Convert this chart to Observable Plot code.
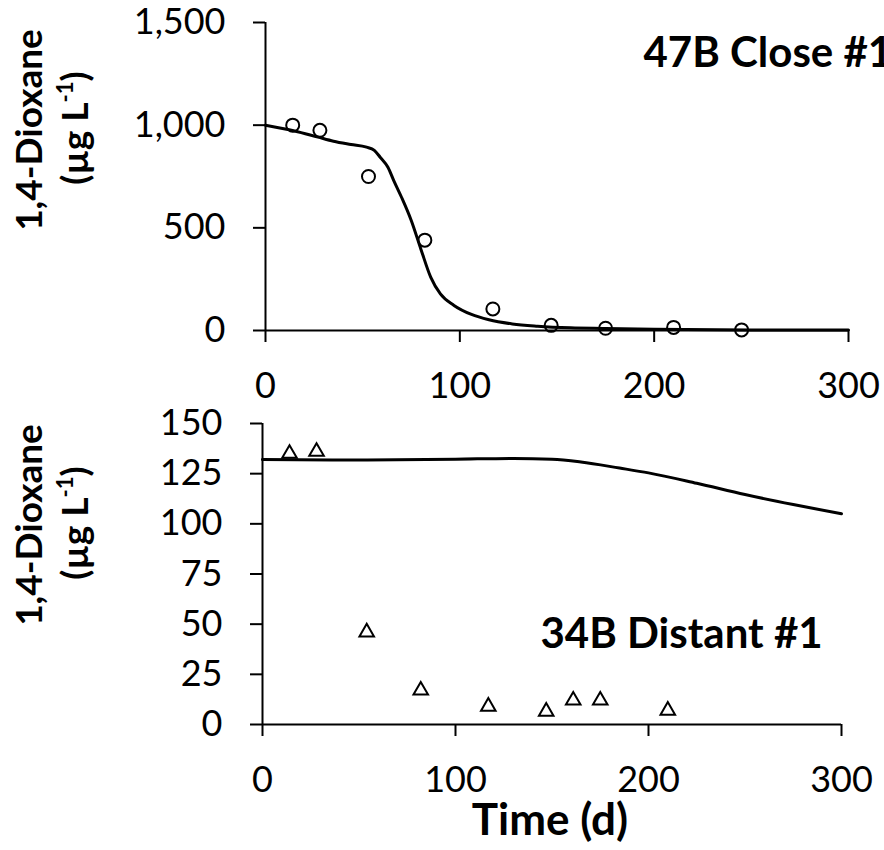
<!DOCTYPE html>
<html>
<head>
<meta charset="utf-8">
<script src="https://cdn.jsdelivr.net/npm/d3@7"></script>
<script src="https://cdn.jsdelivr.net/npm/@observablehq/plot@0.6"></script>
<style>
  html, body { margin: 0; padding: 0; background: white; }
  #wrap { position: relative; width: 884px; height: 850px; overflow: hidden; background: white; }
  #topPanel, #bottomPanel { position: absolute; left: 0; }
  #topPanel { top: 0; }
  #bottomPanel { top: 395px; }
  svg text { font-family: Lato, "DejaVu Sans", sans-serif; }
</style>
</head>
<body>
<div id="wrap"><div id="topPanel"></div><div id="bottomPanel"></div></div>
<script>
// ---- data ----
const xTicks = [0, 100, 200, 300];
const closeTicks = [0, 500, 1000, 1500];
const distantTicks = [0, 25, 50, 75, 100, 125, 150];

// 47B Close #1: observations (circles)
const closeDays = [14, 28, 53, 82, 117, 147, 175, 210, 245];
const closeConc = [1000, 975, 750, 440, 105, 25, 11, 15, 3];
// 47B Close #1: model curve
const closeModelDays = [0, 15, 27, 35, 44, 52, 56, 59, 63, 66, 70, 75, 80, 85, 90, 97, 106, 115, 127, 140, 157, 175, 200, 250, 300];
const closeModelConc = [1000, 972, 942, 922, 906, 893, 877, 844, 795, 730, 649, 536, 395, 260, 178, 122, 78, 52, 32, 21, 13, 10, 6, 3, 2];

// 34B Distant #1: observations (triangles)
const distantDays = [14, 28, 54, 82, 117, 147, 161, 175, 210];
const distantConc = [135, 136, 46, 17, 9, 6.5, 12, 12, 7];
// 34B Distant #1: model curve
const distantModelDays = [0, 50, 100, 130, 150, 165, 185, 200, 225, 250, 275, 300];
const distantModelConc = [132, 131.8, 132.2, 132.6, 132.2, 130.8, 127.8, 125.4, 120.2, 114.6, 109.6, 105];

const closeLabel = "47B Close #1";
const distantLabel = "34B Distant #1";
const yTitle1 = "1,4-Dioxane";
const xTitle = "Time (d)";

// ---- tables ----
const zip = (xs, ys) => xs.map((x, i) => ({x, y: ys[i]}));
const closeObs = zip(closeDays, closeConc);
const closeModel = zip(closeModelDays, closeModelConc);
const distantObs = zip(distantDays, distantConc);
const distantModel = zip(distantModelDays, distantModelConc);

const baseStyle = {fontFamily: "Lato, sans-serif", fontSize: "36px", color: "black", background: "transparent"};

const topPlot = Plot.plot({
  width: 884, height: 420,
  marginLeft: 265, marginRight: 36, marginTop: 22, marginBottom: 90,
  style: baseStyle,
  x: {domain: [0, 300]},
  y: {domain: [0, 1500]},
  marks: [
    Plot.axisX({ticks: xTicks, tickSize: 12, tickPadding: 30, strokeWidth: 2, label: null, tickFormat: d3.format("d")}),
    Plot.axisY({ticks: closeTicks, tickSize: 12, tickPadding: 28, strokeWidth: 2, label: null, tickFormat: d3.format(",")}),
    Plot.ruleX([0], {stroke: "black", strokeWidth: 2}),
    Plot.ruleY([0], {stroke: "black", strokeWidth: 2}),
    Plot.line(closeModel, {x: "x", y: "y", curve: "monotone-x", stroke: "black", strokeWidth: 3}),
    Plot.dot(closeObs, {x: "x", y: "y", r: 6.5, stroke: "black", strokeWidth: 2, fill: "none"}),
    Plot.text([closeLabel], {x: () => 194.5, y: () => 1281, text: d => d, textAnchor: "start", lineAnchor: "bottom", fontWeight: "bold", fontSize: 42})
  ]
});

const bottomPlot = Plot.plot({
  width: 884, height: 455,
  marginLeft: 262, marginRight: 43, marginTop: 28, marginBottom: 126,
  style: baseStyle,
  x: {domain: [0, 300]},
  y: {domain: [0, 150]},
  marks: [
    Plot.axisX({ticks: xTicks, tickSize: 12, tickPadding: 30, strokeWidth: 2, label: null, tickFormat: d3.format("d")}),
    Plot.axisY({ticks: distantTicks, tickSize: 12, tickPadding: 28, strokeWidth: 2, label: null, tickFormat: d3.format("d")}),
    Plot.ruleX([0], {stroke: "black", strokeWidth: 2}),
    Plot.ruleY([0], {stroke: "black", strokeWidth: 2}),
    Plot.line(distantModel, {x: "x", y: "y", curve: "monotone-x", stroke: "black", strokeWidth: 3}),
    Plot.dot(distantObs, {x: "x", y: "y", symbol: "triangle", r: 5.4, stroke: "black", strokeWidth: 2, fill: "none"}),
    Plot.text([distantLabel], {x: () => 144, y: () => 38.3, text: d => d, textAnchor: "start", lineAnchor: "bottom", fontWeight: "bold", fontSize: 42})
  ]
});

document.getElementById("topPanel").appendChild(topPlot);
document.getElementById("bottomPanel").appendChild(bottomPlot);

// ---- axis titles ----
function addYTitle(svg, cy) {
  const s = d3.select(svg);
  s.append("text")
    .attr("transform", `translate(42,${cy}) rotate(-90)`)
    .attr("text-anchor", "middle")
    .attr("font-weight", "bold")
    .attr("font-size", 37)
    .attr("fill", "black")
    .text(yTitle1);
  const t2 = s.append("text")
    .attr("transform", `translate(88,${cy - 2}) rotate(-90)`)
    .attr("text-anchor", "middle")
    .attr("font-weight", "bold")
    .attr("font-size", 37)
    .attr("fill", "black");
  t2.append("tspan").text("(µg L");
  t2.append("tspan").attr("font-size", 22).attr("dy", -15).text("-1");
  t2.append("tspan").attr("dy", 15).text(")");
}
addYTitle(topPlot, 130);
addYTitle(bottomPlot, 130);

d3.select(bottomPlot).append("text")
  .attr("x", 550).attr("y", 440)
  .attr("text-anchor", "middle")
  .attr("font-weight", "bold")
  .attr("font-size", 44)
  .attr("fill", "black")
  .text(xTitle);
</script>
</body>
</html>
